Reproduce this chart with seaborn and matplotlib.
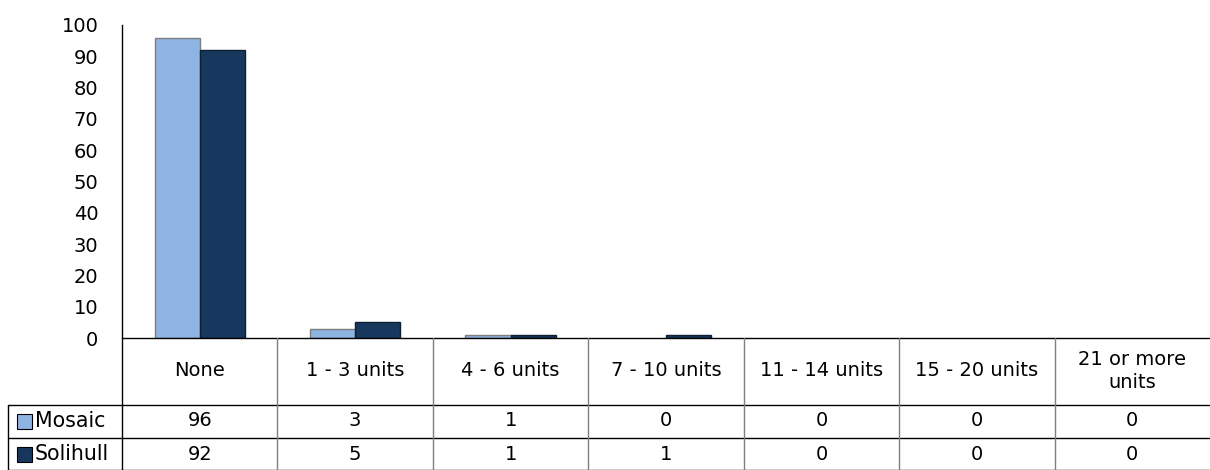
import pandas as pd
import matplotlib
matplotlib.use('Agg')
import matplotlib.pyplot as plt
from matplotlib.patches import Rectangle
import seaborn as sns

# chart data
categories = ['None', '1 - 3 units', '4 - 6 units', '7 - 10 units',
              '11 - 14 units', '15 - 20 units', '21 or more\nunits']
series = ['Mosaic', 'Solihull']
mosaic = [96, 3, 1, 0, 0, 0, 0]
solihull = [92, 5, 1, 1, 0, 0, 0]
y_ticks = [0, 10, 20, 30, 40, 50, 60, 70, 80, 90, 100]

colors = {'Mosaic': '#8EB4E3', 'Solihull': '#17375E'}
edges = {'Mosaic': '#7f7f7f', 'Solihull': '#0d1f33'}

df = pd.DataFrame({
    'Category': categories * 2,
    'Series': ['Mosaic'] * len(categories) + ['Solihull'] * len(categories),
    'Value': mosaic + solihull,
})

sns.set_style('white')
plt.rcParams['font.family'] = ['DejaVu Sans']
plt.rcParams['text.color'] = 'black'
plt.rcParams['ytick.color'] = 'black'
plt.rcParams['ytick.labelcolor'] = 'black'
fs = 14

W, H = 1210, 470
fig = plt.figure(figsize=(W / 100, H / 100), dpi=100)
ax = fig.add_axes([122 / W, 1 - 338 / H, (W - 122) / W, (338 - 25) / H])

sns.barplot(data=df, x='Category', y='Value', hue='Series', order=categories,
            hue_order=series, palette=colors, width=0.58, saturation=1,
            ax=ax, legend=False)

for cont, s in zip(ax.containers, series):
    for bar in cont:
        bar.set_edgecolor(edges[s])
        bar.set_linewidth(1.0)
        if bar.get_height() == 0:
            bar.set_visible(False)

ax.set_xlim(-0.5, len(categories) - 0.5)
ax.set_ylim(0, 100)
ax.set_yticks(y_ticks)
ax.set_yticklabels([str(t) for t in y_ticks], fontsize=fs)
ax.tick_params(axis='y', length=0, pad=17)
ax.set_xticks([])
ax.set_xlabel('')
ax.set_ylabel('')
for side in ['top', 'right', 'bottom']:
    ax.spines[side].set_visible(False)
ax.spines['left'].set_color('black')
ax.spines['left'].set_linewidth(1.0)

# data table below the axes (figure pixel coords, y from top)
def fy(py):
    return 1 - py / H

def fx(px):
    return px / W

line_kw = dict(transform=fig.transFigure, clip_on=False)
col_w = (W - 122) / len(categories)
# horizontal lines
fig.add_artist(plt.Line2D([fx(122), 1], [fy(338), fy(338)], color='black', lw=1.0, **line_kw))
for py in [405, 438]:
    fig.add_artist(plt.Line2D([fx(8), 1], [fy(py), fy(py)], color='black', lw=1.0, **line_kw))
fig.add_artist(plt.Line2D([fx(8), 1], [fy(469.5), fy(469.5)], color='black', lw=1.0, **line_kw))
# vertical lines
fig.add_artist(plt.Line2D([fx(122), fx(122)], [fy(338), fy(470)], color='black', lw=1.0, **line_kw))
fig.add_artist(plt.Line2D([fx(8), fx(8)], [fy(405), fy(470)], color='black', lw=1.0, **line_kw))
for i in range(1, len(categories)):
    x = 122 + i * col_w
    fig.add_artist(plt.Line2D([fx(x), fx(x)], [fy(338), fy(470)], color='#7f7f7f', lw=1.0, **line_kw))

# header and values
for i, cat in enumerate(categories):
    cx = fx(122 + (i + 0.5) * col_w)
    fig.text(cx, fy(371), cat, ha='center', va='center', fontsize=fs,
             linespacing=1.25)
    fig.text(cx, fy(421), str(mosaic[i]), ha='center', va='center', fontsize=fs)
    fig.text(cx, fy(454), str(solihull[i]), ha='center', va='center', fontsize=fs)

# row labels with legend keys
for s, py in zip(series, [421, 454]):
    fig.add_artist(Rectangle((fx(17), fy(py + 7.5)), 15 / W, 15 / H,
                             facecolor=colors[s], edgecolor='black', lw=0.8,
                             transform=fig.transFigure))
    fig.text(fx(35), fy(py), s, ha='left', va='center', fontsize=fs + 0.8)

fig.savefig('out.png', dpi=100)
